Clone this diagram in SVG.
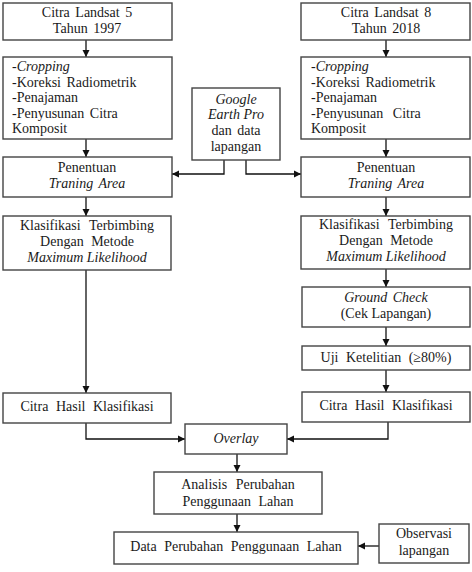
<svg xmlns="http://www.w3.org/2000/svg" width="472" height="572" viewBox="0 0 472 572" font-family="'Liberation Serif', 'Times New Roman', Times, serif">
<defs>
<marker id="ah" markerWidth="8" markerHeight="8" refX="7" refY="4" orient="auto" markerUnits="userSpaceOnUse">
<path d="M0,0.5 L7,4 L0,7.5 Z" fill="#111"/>
</marker>
<style>
.box{fill:#fff;stroke:#444;stroke-width:1.4}
text{font-size:14px;fill:#1a1a1a;word-spacing:2px}
.c{text-anchor:middle}
.i{font-style:italic}
.ln{fill:none;stroke:#111;stroke-width:1.3;marker-end:url(#ah)}
</style>
</defs>
<rect width="472" height="572" fill="#fff"/>
<g id="connectors">
<path class="ln" d="M86,40 V57"/>
<path class="ln" d="M86,139 V157"/>
<path class="ln" d="M86,197 V216"/>
<path class="ln" d="M86,270 V393"/>
<path class="ln" d="M386,40 V57"/>
<path class="ln" d="M386,139 V157"/>
<path class="ln" d="M386,197 V216"/>
<path class="ln" d="M386,269 V287"/>
<path class="ln" d="M386,327 V346"/>
<path class="ln" d="M386,370 V392"/>
<path class="ln" d="M224,160 V174 H172"/>
<path class="ln" d="M246,160 V174 H301"/>
<path class="ln" d="M86,423 V439 H185"/>
<path class="ln" d="M388,422 V439 H287"/>
<path class="ln" d="M237,454 V472"/>
<path class="ln" d="M237,514 V532"/>
<path class="ln" d="M379,546 H358"/>
</g>
<g id="landsat5">
<rect class="box" x="3" y="3" width="169" height="37"/>
<text class="c" x="87" y="17">Citra Landsat 5</text>
<text class="c" x="87" y="33">Tahun 1997</text>
</g>
<g id="prep5">
<rect class="box" x="3" y="57" width="169" height="82"/>
<text x="12" y="71">-<tspan class="i">Cropping</tspan></text>
<text x="12" y="86.5">-Koreksi Radiometrik</text>
<text x="12" y="102">-Penajaman</text>
<text x="12" y="117.5" word-spacing="6">-Penyusunan Citra</text>
<text x="12" y="133">Komposit</text>
</g>
<g id="training5">
<rect class="box" x="3" y="157" width="169" height="40"/>
<text class="c" x="87" y="172">Penentuan</text>
<text class="c i" x="87" y="188">Traning Area</text>
</g>
<g id="klas5">
<rect class="box" x="3" y="216" width="168" height="54"/>
<text class="c" x="87" y="230" style="word-spacing:5px">Klasifikasi Terbimbing</text>
<text class="c" x="87" y="246" style="word-spacing:4px">Dengan Metode</text>
<text class="c i" x="87" y="262" style="word-spacing:0">Maximum Likelihood</text>
</g>
<g id="hasil5">
<rect class="box" x="3" y="393" width="168" height="30"/>
<text class="c" x="87" y="411" style="word-spacing:4px">Citra Hasil Klasifikasi</text>
</g>
<g id="google">
<rect class="box" x="192" y="88" width="88" height="72"/>
<text class="c i" x="236" y="104">Google</text>
<text class="c i" x="236" y="119" style="word-spacing:0">Earth Pro</text>
<text class="c" x="236" y="135">dan data</text>
<text class="c" x="236" y="151">lapangan</text>
</g>
<g id="landsat8">
<rect class="box" x="301" y="3" width="169" height="37"/>
<text class="c" x="386" y="17">Citra Landsat 8</text>
<text class="c" x="386" y="33">Tahun 2018</text>
</g>
<g id="prep8">
<rect class="box" x="301" y="57" width="169" height="82"/>
<text x="311" y="71">-<tspan class="i">Cropping</tspan></text>
<text x="311" y="86.5">-Koreksi Radiometrik</text>
<text x="311" y="102">-Penajaman</text>
<text x="311" y="117.5" style="word-spacing:6px">-Penyusunan Citra</text>
<text x="311" y="133">Komposit</text>
</g>
<g id="training8">
<rect class="box" x="301" y="157" width="169" height="40"/>
<text class="c" x="386" y="172">Penentuan</text>
<text class="c i" x="386" y="188">Traning Area</text>
</g>
<g id="klas8">
<rect class="box" x="301" y="216" width="169" height="53"/>
<text class="c" x="386" y="229" style="word-spacing:5px">Klasifikasi Terbimbing</text>
<text class="c" x="386" y="245" style="word-spacing:4px">Dengan Metode</text>
<text class="c i" x="386" y="261" style="word-spacing:0">Maximum Likelihood</text>
</g>
<g id="groundcheck">
<rect class="box" x="302" y="287" width="168" height="40"/>
<text class="c i" x="386" y="302">Ground Check</text>
<text class="c" x="386" y="318" style="word-spacing:0">(Cek Lapangan)</text>
</g>
<g id="uji">
<rect class="box" x="302" y="346" width="168" height="24"/>
<text class="c" x="386" y="362" style="word-spacing:4px">Uji Ketelitian (≥80%)</text>
</g>
<g id="hasil8">
<rect class="box" x="302" y="392" width="168" height="30"/>
<text class="c" x="386" y="410" style="word-spacing:4px">Citra Hasil Klasifikasi</text>
</g>
<g id="overlay">
<rect class="box" x="185" y="424" width="102" height="30"/>
<text class="c i" x="236" y="443">Overlay</text>
</g>
<g id="analisis">
<rect class="box" x="154" y="472" width="168" height="42"/>
<text class="c" x="238" y="489" style="word-spacing:5px">Analisis Perubahan</text>
<text class="c" x="238" y="506" style="word-spacing:4px">Penggunaan Lahan</text>
</g>
<g id="data">
<rect class="box" x="114" y="532" width="244" height="32"/>
<text class="c" x="236" y="551" style="word-spacing:4px">Data Perubahan Penggunaan Lahan</text>
</g>
<g id="observasi">
<rect class="box" x="379" y="524" width="90" height="39"/>
<text class="c" x="424" y="538">Observasi</text>
<text class="c" x="424" y="555">lapangan</text>
</g>
</svg>
